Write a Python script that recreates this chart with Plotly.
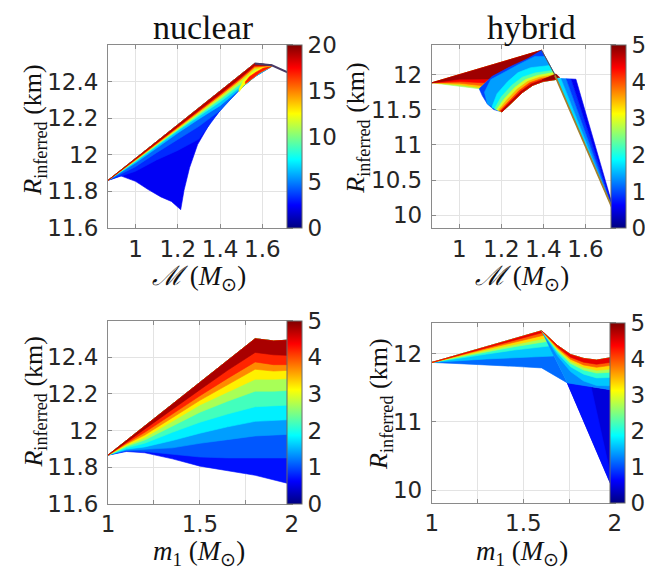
import plotly.graph_objects as go

W, H = 653, 579

# ---------------- data ----------------
# Panel 1 : nuclear, R_inferred vs chirp mass
p1_top_x = [0.87, 1.0, 1.1, 1.2, 1.3, 1.4, 1.5, 1.564, 1.645]
p1_top_y = [11.86, 11.98, 12.072, 12.164, 12.256, 12.349, 12.441, 12.50, 12.49]
p1_edge_x = [1.645, 1.588, 1.51, 1.433, 1.356, 1.294, 1.256, 1.23, 1.214, 1.17, 1.12, 1.06, 1.00, 0.93, 0.87]
p1_edge_y = [12.484, 12.449, 12.377, 12.288, 12.18, 12.056, 11.93, 11.807, 11.70, 11.745, 11.77, 11.81, 11.855, 11.885, 11.86]
p1_base_value = 2.3
p1_levels = [3.3, 4.5, 6.5, 8.5, 11, 13.5, 16.5, 19]
p1_level_y = [
    [11.86, 11.91, 11.972, 12.024, 12.086, 12.242, 12.365, 12.427, 12.484],
    [11.86, 11.935, 12.012, 12.084, 12.156, 12.242, 12.365, 12.427, 12.484],
    [11.86, 11.955, 12.037, 12.119, 12.196, 12.269, 12.365, 12.427, 12.484],
    [11.86, 11.963, 12.048, 12.132, 12.211, 12.289, 12.376, 12.44, 12.484],
    [11.86, 11.967, 12.054, 12.14, 12.221, 12.304, 12.391, 12.455, 12.486],
    [11.86, 11.97, 12.058, 12.146, 12.229, 12.316, 12.406, 12.47, 12.487],
    [11.86, 11.973, 12.062, 12.151, 12.236, 12.325, 12.416, 12.48, 12.488],
    [11.86, 11.976, 12.066, 12.156, 12.243, 12.333, 12.425, 12.488, 12.489],
]
p1_ridge_values = [12.5, 17]
p1_ridge_x = [[1.49, 1.51, 1.55, 1.588, 1.645, 1.60, 1.55, 1.51, 1.49],
              [1.52, 1.55, 1.588, 1.645, 1.61, 1.57, 1.54, 1.52]]
p1_ridge_y = [[12.345, 12.377, 12.415, 12.449, 12.484, 12.482, 12.448, 12.405, 12.36],
              [12.389, 12.415, 12.449, 12.484, 12.478, 12.452, 12.428, 12.40]]
p1_tail_x = [1.564, 1.645, 1.74]
p1_tail_y = [12.50, 12.49, 12.44]

# Panel 2 : hybrid, R_inferred vs chirp mass
p2_tip = (0.87, 11.885)
p2_arc_upper_x = [1.095, 1.157, 1.25, 1.327, 1.392]
p2_arc_upper_y = [11.80, 11.977, 12.125, 12.23, 12.347]
p2_wedge_base = 2.7
p2_wedge_levels = [3.4, 3.9, 4.4, 4.85]
p2_wedge_mid_y = [11.856, 11.879, 11.902, 11.936]   # at M = 1.0
p2_wedge_end_x = [1.10, 1.106, 1.12, 1.145]
p2_wedge_end_y = [11.815, 11.845, 11.885, 11.94]
p2_arc_right = (1.455, 11.996)
p2_arc_outer_x = [1.467, 1.40, 1.35, 1.30, 1.25, 1.203]
p2_arc_outer_y = [11.935, 11.905, 11.85, 11.745, 11.60, 11.47]
p2_arc_left_x = [1.164, 1.134, 1.110]
p2_arc_left_y = [11.504, 11.583, 11.70]
p2_arc_base = 0.95
p2_arc_levels = [1.4, 1.8, 2.3, 2.9, 3.5, 4.1, 4.7]
p2_arc_curve_x = [
    [1.134, 1.12, 1.15, 1.21, 1.28, 1.36, 1.408],
    [1.155, 1.18, 1.23, 1.28, 1.34, 1.43],
    [1.168, 1.2, 1.25, 1.30, 1.36, 1.443],
    [1.178, 1.215, 1.265, 1.315, 1.372, 1.448],
    [1.186, 1.226, 1.276, 1.326, 1.382, 1.453],
    [1.193, 1.236, 1.285, 1.335, 1.39, 1.457],
    [1.198, 1.243, 1.292, 1.342, 1.395, 1.46],
]
p2_arc_curve_y = [
    [11.583, 11.75, 11.93, 12.03, 12.14, 12.26, 12.26],
    [11.535, 11.73, 11.9, 12.03, 12.1, 12.13],
    [11.515, 11.685, 11.85, 11.965, 12.025, 12.06],
    [11.505, 11.66, 11.82, 11.93, 11.99, 12.03],
    [11.495, 11.64, 11.795, 11.905, 11.963, 12.0],
    [11.487, 11.625, 11.775, 11.885, 11.943, 11.975],
    [11.48, 11.612, 11.76, 11.868, 11.925, 11.955],
]
p2_lip_x = [1.395, 1.43, 1.46, 1.478, 1.46, 1.42]
p2_lip_y = [11.93, 11.975, 12.01, 11.96, 11.945, 11.925]
p2_lip_value = 4.9
p2_tri_top_x = [1.462, 1.485, 1.509, 1.532, 1.555]
p2_tri_top_y = [11.949, 11.946, 11.942, 11.939, 11.935]
p2_tri_bottom = (1.743, 9.996)
p2_tri_values = [1.7, 1.3, 0.9, 0.55]
p2_diag_x = [1.455, 1.743]
p2_diag_y = [11.99, 9.996]
p2_redge_x = [1.392, 1.455]
p2_redge_y = [12.347, 11.996]

# Panel 3 : nuclear, R_inferred vs m1
p3_x = [1.0, 1.1, 1.2, 1.35, 1.5, 1.65, 1.8, 1.9, 2.0]
p3_top = [11.865, 11.945, 12.024, 12.144, 12.263, 12.383, 12.502, 12.49, 12.495]
p3_bottom = [11.865, 11.885, 11.878, 11.845, 11.805, 11.78, 11.755, 11.73, 11.705]
p3_base_value = 0.7
p3_levels = [1.05, 1.4, 1.8, 2.2, 2.7, 3.2, 3.7, 4.2, 4.8]
p3_level_y = [
    [11.865, 11.888, 11.885, 11.87, 11.855, 11.85, 11.85, 11.85, 11.85],
    [11.865, 11.892, 11.895, 11.905, 11.93, 11.95, 11.97, 11.975, 11.98],
    [11.865, 11.898, 11.91, 11.945, 11.985, 12.02, 12.05, 12.055, 12.06],
    [11.865, 11.905, 11.93, 11.99, 12.045, 12.09, 12.13, 12.135, 12.14],
    [11.865, 11.912, 11.948, 12.025, 12.1, 12.16, 12.215, 12.215, 12.22],
    [11.865, 11.918, 11.962, 12.05, 12.14, 12.21, 12.28, 12.28, 12.285],
    [11.865, 11.925, 11.975, 12.07, 12.165, 12.25, 12.335, 12.325, 12.33],
    [11.865, 11.93, 11.99, 12.09, 12.19, 12.285, 12.375, 12.36, 12.36],
    [11.865, 11.936, 12.005, 12.114, 12.223, 12.329, 12.427, 12.414, 12.41],
]

# Panel 4 : hybrid, R_inferred vs m1
p4_A_top_x = [1.0, 1.15, 1.3, 1.45, 1.6]
p4_A_top_y = [11.87, 11.986, 12.101, 12.217, 12.333]
p4_A_low_x = [1.74, 1.6, 1.45, 1.3, 1.15]
p4_A_low_y = [11.571, 11.79, 11.813, 11.836, 11.852]
p4_A_base = 1.15
p4_A_levels = [1.6, 2.1, 2.7, 3.3, 3.9, 4.5]
p4_A_end_x = [1.668, 1.641, 1.629, 1.62, 1.612, 1.605]
p4_A_end_y = [11.964, 12.11, 12.176, 12.224, 12.268, 12.306]
p4_A_level_y = [   # at m1 = 1.45, 1.3, 1.15
    [11.942, 11.921, 11.895],
    [12.051, 11.992, 11.931],
    [12.1, 12.024, 11.947],
    [12.136, 12.048, 11.959],
    [12.169, 12.069, 11.97],
    [12.197, 12.088, 11.979],
]
p4_arc_x = [1.6, 1.686, 1.758, 1.829, 1.90, 1.963, 2.0]
p4_arc_top = [12.333, 12.119, 11.986, 11.929, 11.904, 11.929, 11.95]
p4_arc_bottom_x = [2.0, 1.74]
p4_arc_bottom_y = [11.461, 11.571]
p4_arc_base = 1.3
p4_arc_levels = [1.6, 2.1, 2.7, 3.3, 3.9, 4.5]
p4_arc_level_y = [
    [12.333, 11.969, 11.736, 11.599, 11.534, 11.529, 11.54],
    [12.333, 12.009, 11.806, 11.699, 11.644, 11.649, 11.66],
    [12.333, 12.039, 11.856, 11.759, 11.714, 11.724, 11.74],
    [12.333, 12.059, 11.886, 11.799, 11.754, 11.769, 11.785],
    [12.333, 12.079, 11.916, 11.834, 11.799, 11.819, 11.835],
    [12.333, 12.099, 11.946, 11.874, 11.844, 11.864, 11.88],
]
p4_tri_x = [1.74, 2.0, 2.0]
p4_tri_y = [11.571, 11.461, 9.95]
p4_tri_value = 0.45
p4_tri2_x = [1.74, 1.87, 2.0]
p4_tri2_y = [11.571, 11.516, 9.95]
p4_tri2_value = 0.7

# ---------------- styling helpers ----------------
JET = [(0.0, (0, 0, 128)), (0.125, (0, 0, 255)), (0.375, (0, 255, 255)),
       (0.625, (255, 255, 0)), (0.875, (255, 0, 0)), (1.0, (128, 0, 0))]
JET_SCALE = [[s, 'rgb(%d,%d,%d)' % c] for s, c in JET]


def jet(t):
    t = max(0.0, min(1.0, t))
    for (s0, c0), (s1, c1) in zip(JET[:-1], JET[1:]):
        if t <= s1:
            f = (t - s0) / (s1 - s0)
            return 'rgb(%d,%d,%d)' % tuple(round(a + (b - a) * f) for a, b in zip(c0, c1))
    return 'rgb(128,0,0)'


traces = []


def poly(xs, ys, v, vmax, ax):
    c = jet(v / vmax)
    xs, ys = list(xs), list(ys)
    traces.append(go.Scatter(x=xs + [xs[0]], y=ys + [ys[0]], mode='lines', fill='toself',
                             fillcolor=c, line=dict(color=c, width=0.6),
                             xaxis='x' + ax, yaxis='y' + ax, hoverinfo='skip', showlegend=False))


def line(xs, ys, color, width, ax):
    traces.append(go.Scatter(x=xs, y=ys, mode='lines', line=dict(color=color, width=width),
                             xaxis='x' + ax, yaxis='y' + ax, hoverinfo='skip', showlegend=False))


# ---------------- panel 1 ----------------
poly(p1_top_x + p1_edge_x, p1_top_y + p1_edge_y, p1_base_value, 20, '')
for v, ly in zip(p1_levels, p1_level_y):
    if v > 12:
        continue
    poly(p1_top_x + p1_top_x[::-1], p1_top_y + ly[::-1], v, 20, '')
for v, rx, ry in zip(p1_ridge_values, p1_ridge_x, p1_ridge_y):
    poly(rx, ry, v, 20, '')
for v, ly in zip(p1_levels, p1_level_y):
    if v < 12:
        continue
    poly(p1_top_x + p1_top_x[::-1], p1_top_y + ly[::-1], v, 20, '')
line(p1_tail_x, p1_tail_y, '#4a3a66', 2, '')

# ---------------- panel 2 ----------------
wx = [p2_tip[0]] + p2_arc_upper_x[::-1]
wy = [p2_tip[1]] + p2_arc_upper_y[::-1]
poly(wx, wy, p2_wedge_base, 5, '2')
for v, my, ex, ey in zip(p2_wedge_levels, p2_wedge_mid_y, p2_wedge_end_x, p2_wedge_end_y):
    xs = [p2_tip[0]] + p2_arc_upper_x[::-1][:-1] + [ex, 1.0]
    ys = [p2_tip[1]] + p2_arc_upper_y[::-1][:-1] + [ey, my]
    poly(xs, ys, v, 5, '2')
ax_ = p2_arc_upper_x + [p2_arc_right[0]] + p2_arc_outer_x + p2_arc_left_x
ay_ = p2_arc_upper_y + [p2_arc_right[1]] + p2_arc_outer_y + p2_arc_left_y
poly(ax_, ay_, p2_arc_base, 5, '2')
for v, cx, cy in zip(p2_arc_levels, p2_arc_curve_x, p2_arc_curve_y):
    poly(cx + p2_arc_outer_x, cy + p2_arc_outer_y, v, 5, '2')
poly(p2_lip_x, p2_lip_y, p2_lip_value, 5, '2')
for i, v in enumerate(p2_tri_values):
    poly([p2_tri_top_x[i], p2_tri_top_x[i + 1], p2_tri_bottom[0]],
         [p2_tri_top_y[i], p2_tri_top_y[i + 1], p2_tri_bottom[1]], v, 5, '2')
line(p2_diag_x, p2_diag_y, '#a3802e', 1.8, '2')
line(p2_redge_x, p2_redge_y, '#6b4a44', 1, '2')

# ---------------- panel 3 ----------------
poly(p3_x + p3_x[::-1], p3_top + p3_bottom[::-1], p3_base_value, 5, '3')
for v, ly in zip(p3_levels, p3_level_y):
    poly(p3_x + p3_x[::-1], p3_top + ly[::-1], v, 5, '3')

# ---------------- panel 4 ----------------
poly(p4_tri_x, p4_tri_y, p4_tri_value, 5, '4')
poly(p4_tri2_x, p4_tri2_y, p4_tri2_value, 5, '4')
poly(p4_A_top_x + p4_A_low_x, p4_A_top_y + p4_A_low_y, p4_A_base, 5, '4')
for v, ex, ey, ly in zip(p4_A_levels, p4_A_end_x, p4_A_end_y, p4_A_level_y):
    poly(p4_A_top_x + [ex] + p4_A_top_x[3:0:-1], p4_A_top_y + [ey] + ly, v, 5, '4')
poly(p4_arc_x + p4_arc_bottom_x, p4_arc_top + p4_arc_bottom_y, p4_arc_base, 5, '4')
for v, ly in zip(p4_arc_levels, p4_arc_level_y):
    poly(p4_arc_x + p4_arc_x[::-1], p4_arc_top + ly[::-1], v, 5, '4')

# colour-bar carriers
for ax, ca, xv, yv in [('', 'coloraxis', 1.0, 12.0), ('2', 'coloraxis2', 1.0, 11.0),
                       ('3', 'coloraxis3', 1.5, 12.0), ('4', 'coloraxis4', 1.5, 11.0)]:
    traces.append(go.Scatter(x=[xv], y=[yv], mode='markers',
                             marker=dict(color=[0], coloraxis=ca, size=1, opacity=0),
                             xaxis='x' + ax, yaxis='y' + ax, hoverinfo='skip', showlegend=False))

fig = go.Figure(traces)

TICKFONT = dict(family='DejaVu Sans', size=23, color='#262626')


def px_x(p):
    return p / W


def px_y(p):
    return 1 - p / H


def xax(rng, dom, tv, tt, anchor):
    return dict(range=rng, domain=dom, tickvals=tv, ticktext=tt, anchor=anchor,
                showline=True, linecolor='#8a8a8a', linewidth=1, mirror='ticks',
                showgrid=True, gridcolor='#e3e3e3', gridwidth=1, zeroline=False,
                ticks='inside', ticklen=4, tickcolor='#8a8a8a', tickfont=TICKFONT,
                ticklabelstandoff=0)


def yax(rng, dom, tv, tt, anchor):
    d = xax(rng, dom, tv, tt, anchor)
    d['ticklabelstandoff'] = 4
    return d


xd_l = [px_x(95), px_x(283)]
xd_r = [px_x(426), px_x(613)]
yd_t = [px_y(225), px_y(38)]
yd_b3 = [px_y(507), px_y(320)]
yd_b4 = [px_y(506), px_y(322)]

y_nuc_tv = [11.6, 11.8, 12, 12.2, 12.4]
y_nuc_tt = ['11.6', '11.8', '12', '12.2', '12.4']
x_chirp_tv = [1, 1.2, 1.4, 1.6]
x_chirp_tt = ['1', '1.2', '1.4', '1.6']
x_m1_tv = [1, 1.25, 1.5, 1.75, 2]
x_m1_tt = ['1', '', '1.5', '', '2']


def cbar(xpx, ytop, ybot, tv):
    return dict(x=px_x(xpx), xanchor='left', y=px_y((ytop + ybot) / 2), yanchor='middle',
                len=(ybot - ytop) / H, lenmode='fraction', thickness=15,
                outlinewidth=1, outlinecolor='#6a6a6a', tickvals=tv, ticks='',
                tickfont=TICKFONT, xpad=0, ypad=0)


fig.update_layout(
    width=W, height=H, margin=dict(l=0, r=0, t=0, b=0),
    paper_bgcolor='white', plot_bgcolor='white', showlegend=False,
    xaxis=xax([0.87, 1.74], xd_l, x_chirp_tv, x_chirp_tt, 'y'),
    yaxis=yax([11.6, 12.6], yd_t, y_nuc_tv, y_nuc_tt, 'x'),
    xaxis2=xax([0.87, 1.74], xd_r, x_chirp_tv, x_chirp_tt, 'y2'),
    yaxis2=yax([9.82, 12.42], yd_t, [10, 10.5, 11, 11.5, 12], ['10', '10.5', '11', '11.5', '12'], 'x2'),
    xaxis3=xax([1, 2], xd_l, x_m1_tv, x_m1_tt, 'y3'),
    yaxis3=yax([11.6, 12.6], yd_b3, y_nuc_tv, y_nuc_tt, 'x3'),
    xaxis4=xax([1, 2], xd_r, x_m1_tv, x_m1_tt, 'y4'),
    yaxis4=yax([9.82, 12.45], yd_b4, [10, 11, 12], ['10', '11', '12'], 'x4'),
    coloraxis=dict(colorscale=JET_SCALE, cmin=0, cmax=20, colorbar=cbar(278, 38, 225, [0, 5, 10, 15, 20])),
    coloraxis2=dict(colorscale=JET_SCALE, cmin=0, cmax=5, colorbar=cbar(609, 38, 225, [0, 1, 2, 3, 4, 5])),
    coloraxis3=dict(colorscale=JET_SCALE, cmin=0, cmax=5, colorbar=cbar(278, 320, 507, [0, 1, 2, 3, 4, 5])),
    coloraxis4=dict(colorscale=JET_SCALE, cmin=0, cmax=5, colorbar=cbar(608, 322, 506, [0, 1, 2, 3, 4, 5])),
)

SERIF = 'Liberation Serif'
ann = []


def note(text, xpx, ypx, size, angle=0):
    ann.append(dict(text=text, x=px_x(xpx), y=px_y(ypx), xref='paper', yref='paper',
                    xanchor='center', yanchor='middle', showarrow=False, textangle=angle,
                    font=dict(family=SERIF, size=size, color='#111111')))


note('nuclear', 193, 20, 34)
note('hybrid', 528, 20, 34)
ylab = '<i>R</i><sub>inferred</sub> (km)'
note(ylab, 20, 125, 26, -90)
note(ylab, 350, 122, 26, -90)
note(ylab, 20, 403, 26, -90)
note(ylab, 373, 405, 26, -90)
xlab_c = '<i>ℳ</i> (<i>M</i><sub>⊙</sub>)'
xlab_m = '<i>m</i><sub>1</sub> (<i>M</i><sub>⊙</sub>)'
note(xlab_c, 188, 276, 27)
note(xlab_c, 518, 276, 27)
note(xlab_m, 188, 558, 27)
note(xlab_m, 518, 558, 27)
fig.update_layout(annotations=ann)

fig.write_html('out.html')
